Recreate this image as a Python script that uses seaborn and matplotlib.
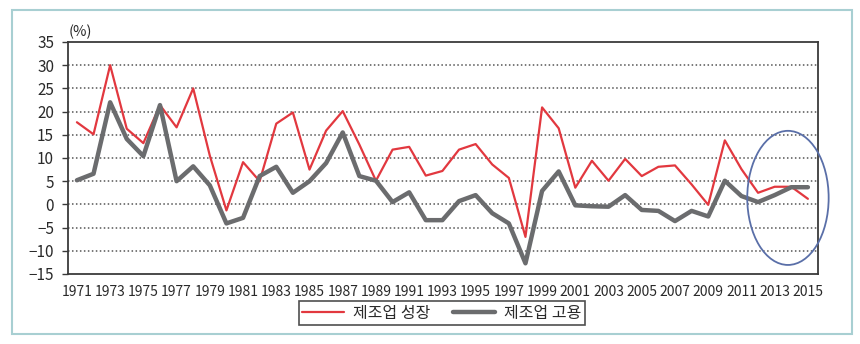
import matplotlib
matplotlib.use("Agg")
import matplotlib.pyplot as plt
from matplotlib.patches import Ellipse, Rectangle
import seaborn as sns
import pandas as pd

years = list(range(1971, 2016))

# 제조업 성장 (manufacturing growth, %)
growth = [17.7, 15.1, 30.0, 16.3, 13.2, 21.4, 16.6, 25.0, 10.5, -1.3,
          9.1, 5.0, 17.4, 19.8, 7.5, 15.9, 20.1, 12.9, 5.1, 11.8,
          12.4, 6.2, 7.2, 11.8, 13.0, 8.6, 5.7, -7.0, 20.9, 16.4,
          3.6, 9.4, 5.1, 9.8, 6.1, 8.1, 8.4, 4.3, -0.1, 13.8,
          7.6, 2.5, 3.8, 3.8, 1.2]

# 제조업 고용 (manufacturing employment, %)
employment = [5.2, 6.6, 22.0, 14.1, 10.4, 21.4, 5.0, 8.2, 4.1, -4.1,
              -2.9, 6.1, 8.1, 2.5, 5.0, 8.9, 15.5, 6.1, 5.1, 0.5,
              2.6, -3.4, -3.4, 0.7, 2.0, -1.9, -4.1, -12.7, 2.9, 7.1,
              -0.2, -0.4, -0.5, 2.0, -1.2, -1.4, -3.6, -1.4, -2.6, 5.1,
              1.8, 0.5, 2.0, 3.7, 3.7]

series_names = ["제조업 성장", "제조업 고용"]
y_ticks = list(range(-15, 40, 5))
x_ticks = list(range(1971, 2016, 2))

df = pd.DataFrame({
    "year": years * 2,
    "value": growth + employment,
    "series": [series_names[0]] * len(years) + [series_names[1]] * len(years),
})

sns.set_theme(style="white")
plt.rcParams["font.family"] = ["Noto Sans CJK KR", "DejaVu Sans"]

fig = plt.figure(figsize=(8.6, 3.44), dpi=100)
fig.patch.set_facecolor("white")
ax = fig.add_axes([0.079, 0.2035, 0.872, 0.6745])

red = "#e2383f"
gray = "#6b6c6e"

sns.lineplot(data=df[df.series == series_names[0]], x="year", y="value",
             color=red, linewidth=1.6, ax=ax, label=series_names[0])
sns.lineplot(data=df[df.series == series_names[1]], x="year", y="value",
             color=gray, linewidth=3.2, ax=ax, label=series_names[1])

ax.set_xlim(1970.46, 2015.6)
ax.set_ylim(-15, 35)
ax.set_xticks(x_ticks)
ax.set_yticks(y_ticks)
ax.set_xlabel("")
ax.set_ylabel("")

# dotted horizontal guides
for v in y_ticks[1:-1]:
    ax.axhline(v, color="#555555", linewidth=1.1, linestyle=(0, (1, 1.6)), zorder=0)

for side in ["left", "right", "top", "bottom"]:
    ax.spines[side].set_visible(True)
    ax.spines[side].set_color("#3a3a3a")
    ax.spines[side].set_linewidth(1.3)

ax.tick_params(axis="y", which="major", left=True, length=4, width=1.0,
               color="#3a3a3a", pad=6, labelsize=11, labelcolor="#2a2a2a")
ax.tick_params(axis="x", which="major", bottom=False, pad=2,
               labelsize=10, labelcolor="#2a2a2a")
for lbl in ax.get_xticklabels():
    lbl.set_fontstretch("condensed")

ax.text(0.016, 1.045, "(%)", transform=ax.transAxes, fontsize=10.5,
        color="#2a2a2a", ha="center", va="center")

# highlight on recent years
ell = Ellipse((2013.8, 1.4), width=4.9, height=28.9, fill=False,
              edgecolor="#5a6fa8", linewidth=1.3, clip_on=False, zorder=5)
ax.add_patch(ell)

ax.get_legend().remove()
handles, labels = ax.get_legend_handles_labels()
leg = fig.legend(handles, labels, loc="center", bbox_to_anchor=(0.514, 0.09),
                 ncol=2, frameon=True, fancybox=False, fontsize=11.5,
                 handlelength=2.6, columnspacing=1.4, borderpad=0.2,
                 handletextpad=0.6, borderaxespad=0)
leg.get_frame().set_edgecolor("#222222")
leg.get_frame().set_linewidth(1.2)
for t in leg.get_texts():
    t.set_color("#2a2a2a")

# outer panel border
fig.patches.append(Rectangle((0.014, 0.029), 0.977, 0.942, transform=fig.transFigure,
                             fill=False, edgecolor="#a8cfd2", linewidth=1.5))

fig.savefig("out.png", dpi=100, facecolor="white")
